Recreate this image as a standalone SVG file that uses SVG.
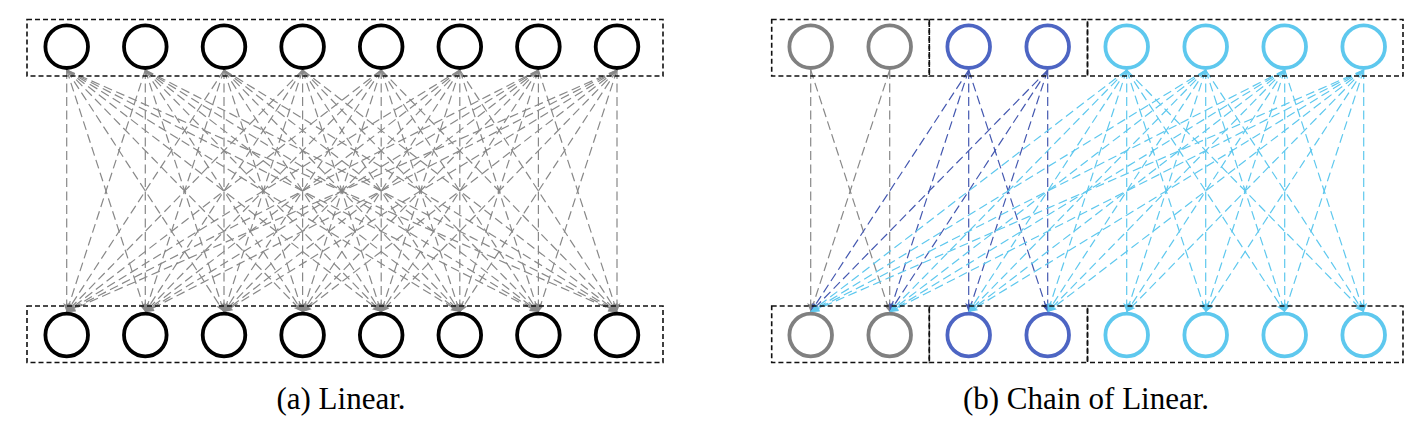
<svg xmlns="http://www.w3.org/2000/svg" width="1422" height="425" viewBox="0 0 1422 425">
<style>
.box{fill:none;stroke:#111;stroke-width:1.6;stroke-dasharray:5,3}
.n{fill:none;stroke-width:3.8}
.k{stroke:#000}
.g{stroke:#808080}
.b{stroke:#4d65c3}
.cy{stroke:#5ec8ee}
.e{fill:none;stroke-width:1.2;stroke-dasharray:9,4.5}
.eg{stroke:#888}
.eb{stroke:#4458b0}
.ec{stroke:#5ec8ee}
.cap{font-family:"Liberation Serif","Times New Roman",serif;font-size:31px;fill:#000;text-anchor:middle}
</style>
<defs>
<marker id="ag" markerUnits="userSpaceOnUse" markerWidth="10" markerHeight="8" refX="9" refY="3.5" orient="auto"><path d="M0,0 L9,3.5 L0,7 L2,3.5 z" fill="#888"/></marker>
<marker id="ab" markerUnits="userSpaceOnUse" markerWidth="10" markerHeight="8" refX="9" refY="3.5" orient="auto"><path d="M0,0 L9,3.5 L0,7 L2,3.5 z" fill="#4458b0"/></marker>
<marker id="ac" markerUnits="userSpaceOnUse" markerWidth="10" markerHeight="8" refX="9" refY="3.5" orient="auto"><path d="M0,0 L9,3.5 L0,7 L2,3.5 z" fill="#5ec8ee"/></marker>
</defs>
<rect width="1422" height="425" fill="#fff"/>
<g id="connectors">
<g class="e eg" marker-end="url(#ag)">
<line x1="66.7" y1="70" x2="66.7" y2="312"/><line x1="66.7" y1="70" x2="145.3" y2="312"/><line x1="66.7" y1="70" x2="224" y2="312"/><line x1="66.7" y1="70" x2="302.6" y2="312"/><line x1="66.7" y1="70" x2="381.2" y2="312"/><line x1="66.7" y1="70" x2="459.8" y2="312"/><line x1="66.7" y1="70" x2="538.4" y2="312"/><line x1="66.7" y1="70" x2="617" y2="312"/>
<line x1="145.3" y1="70" x2="66.7" y2="312"/><line x1="145.3" y1="70" x2="145.3" y2="312"/><line x1="145.3" y1="70" x2="224" y2="312"/><line x1="145.3" y1="70" x2="302.6" y2="312"/><line x1="145.3" y1="70" x2="381.2" y2="312"/><line x1="145.3" y1="70" x2="459.8" y2="312"/><line x1="145.3" y1="70" x2="538.4" y2="312"/><line x1="145.3" y1="70" x2="617" y2="312"/>
<line x1="224" y1="70" x2="66.7" y2="312"/><line x1="224" y1="70" x2="145.3" y2="312"/><line x1="224" y1="70" x2="224" y2="312"/><line x1="224" y1="70" x2="302.6" y2="312"/><line x1="224" y1="70" x2="381.2" y2="312"/><line x1="224" y1="70" x2="459.8" y2="312"/><line x1="224" y1="70" x2="538.4" y2="312"/><line x1="224" y1="70" x2="617" y2="312"/>
<line x1="302.6" y1="70" x2="66.7" y2="312"/><line x1="302.6" y1="70" x2="145.3" y2="312"/><line x1="302.6" y1="70" x2="224" y2="312"/><line x1="302.6" y1="70" x2="302.6" y2="312"/><line x1="302.6" y1="70" x2="381.2" y2="312"/><line x1="302.6" y1="70" x2="459.8" y2="312"/><line x1="302.6" y1="70" x2="538.4" y2="312"/><line x1="302.6" y1="70" x2="617" y2="312"/>
<line x1="381.2" y1="70" x2="66.7" y2="312"/><line x1="381.2" y1="70" x2="145.3" y2="312"/><line x1="381.2" y1="70" x2="224" y2="312"/><line x1="381.2" y1="70" x2="302.6" y2="312"/><line x1="381.2" y1="70" x2="381.2" y2="312"/><line x1="381.2" y1="70" x2="459.8" y2="312"/><line x1="381.2" y1="70" x2="538.4" y2="312"/><line x1="381.2" y1="70" x2="617" y2="312"/>
<line x1="459.8" y1="70" x2="66.7" y2="312"/><line x1="459.8" y1="70" x2="145.3" y2="312"/><line x1="459.8" y1="70" x2="224" y2="312"/><line x1="459.8" y1="70" x2="302.6" y2="312"/><line x1="459.8" y1="70" x2="381.2" y2="312"/><line x1="459.8" y1="70" x2="459.8" y2="312"/><line x1="459.8" y1="70" x2="538.4" y2="312"/><line x1="459.8" y1="70" x2="617" y2="312"/>
<line x1="538.4" y1="70" x2="66.7" y2="312"/><line x1="538.4" y1="70" x2="145.3" y2="312"/><line x1="538.4" y1="70" x2="224" y2="312"/><line x1="538.4" y1="70" x2="302.6" y2="312"/><line x1="538.4" y1="70" x2="381.2" y2="312"/><line x1="538.4" y1="70" x2="459.8" y2="312"/><line x1="538.4" y1="70" x2="538.4" y2="312"/><line x1="538.4" y1="70" x2="617" y2="312"/>
<line x1="617" y1="70" x2="66.7" y2="312"/><line x1="617" y1="70" x2="145.3" y2="312"/><line x1="617" y1="70" x2="224" y2="312"/><line x1="617" y1="70" x2="302.6" y2="312"/><line x1="617" y1="70" x2="381.2" y2="312"/><line x1="617" y1="70" x2="459.8" y2="312"/><line x1="617" y1="70" x2="538.4" y2="312"/><line x1="617" y1="70" x2="617" y2="312"/>
</g>
<g class="e eg" marker-end="url(#ag)">
<line x1="810.7" y1="70" x2="810.7" y2="312"/><line x1="810.7" y1="70" x2="889.7" y2="312"/><line x1="889.7" y1="70" x2="810.7" y2="312"/><line x1="889.7" y1="70" x2="889.7" y2="312"/>
</g>
<g class="e eb" marker-end="url(#ab)">
<line x1="968.7" y1="70" x2="810.7" y2="312"/><line x1="968.7" y1="70" x2="889.7" y2="312"/><line x1="968.7" y1="70" x2="968.7" y2="312"/><line x1="968.7" y1="70" x2="1047.7" y2="312"/>
<line x1="1047.7" y1="70" x2="810.7" y2="312"/><line x1="1047.7" y1="70" x2="889.7" y2="312"/><line x1="1047.7" y1="70" x2="968.7" y2="312"/><line x1="1047.7" y1="70" x2="1047.7" y2="312"/>
</g>
<g class="e ec" marker-end="url(#ac)">
<line x1="1126.7" y1="70" x2="810.7" y2="312"/><line x1="1126.7" y1="70" x2="889.7" y2="312"/><line x1="1126.7" y1="70" x2="968.7" y2="312"/><line x1="1126.7" y1="70" x2="1047.7" y2="312"/><line x1="1126.7" y1="70" x2="1126.7" y2="312"/><line x1="1126.7" y1="70" x2="1205.7" y2="312"/><line x1="1126.7" y1="70" x2="1284.7" y2="312"/><line x1="1126.7" y1="70" x2="1363.7" y2="312"/>
<line x1="1205.7" y1="70" x2="810.7" y2="312"/><line x1="1205.7" y1="70" x2="889.7" y2="312"/><line x1="1205.7" y1="70" x2="968.7" y2="312"/><line x1="1205.7" y1="70" x2="1047.7" y2="312"/><line x1="1205.7" y1="70" x2="1126.7" y2="312"/><line x1="1205.7" y1="70" x2="1205.7" y2="312"/><line x1="1205.7" y1="70" x2="1284.7" y2="312"/><line x1="1205.7" y1="70" x2="1363.7" y2="312"/>
<line x1="1284.7" y1="70" x2="810.7" y2="312"/><line x1="1284.7" y1="70" x2="889.7" y2="312"/><line x1="1284.7" y1="70" x2="968.7" y2="312"/><line x1="1284.7" y1="70" x2="1047.7" y2="312"/><line x1="1284.7" y1="70" x2="1126.7" y2="312"/><line x1="1284.7" y1="70" x2="1205.7" y2="312"/><line x1="1284.7" y1="70" x2="1284.7" y2="312"/><line x1="1284.7" y1="70" x2="1363.7" y2="312"/>
<line x1="1363.7" y1="70" x2="810.7" y2="312"/><line x1="1363.7" y1="70" x2="889.7" y2="312"/><line x1="1363.7" y1="70" x2="968.7" y2="312"/><line x1="1363.7" y1="70" x2="1047.7" y2="312"/><line x1="1363.7" y1="70" x2="1126.7" y2="312"/><line x1="1363.7" y1="70" x2="1205.7" y2="312"/><line x1="1363.7" y1="70" x2="1284.7" y2="312"/><line x1="1363.7" y1="70" x2="1363.7" y2="312"/>
</g>
</g>
<g id="boxes">
<rect class="box" x="27" y="19.5" width="636" height="56.5"/>
<rect class="box" x="27" y="306" width="636" height="56.5"/>
<rect class="box" x="771.7" y="19.5" width="157.6" height="56.5"/>
<rect class="box" x="929.3" y="19.5" width="158.2" height="56.5"/>
<rect class="box" x="1087.5" y="19.5" width="315.5" height="56.5"/>
<rect class="box" x="771.7" y="306" width="157.6" height="56.5"/>
<rect class="box" x="929.3" y="306" width="158.2" height="56.5"/>
<rect class="box" x="1087.5" y="306" width="315.5" height="56.5"/>
</g>
<g id="a-top-1"><circle class="n k" cx="66.7" cy="46.7" r="21.3"/></g>
<g id="a-top-2"><circle class="n k" cx="145.3" cy="46.7" r="21.3"/></g>
<g id="a-top-3"><circle class="n k" cx="224" cy="46.7" r="21.3"/></g>
<g id="a-top-4"><circle class="n k" cx="302.6" cy="46.7" r="21.3"/></g>
<g id="a-top-5"><circle class="n k" cx="381.2" cy="46.7" r="21.3"/></g>
<g id="a-top-6"><circle class="n k" cx="459.8" cy="46.7" r="21.3"/></g>
<g id="a-top-7"><circle class="n k" cx="538.4" cy="46.7" r="21.3"/></g>
<g id="a-top-8"><circle class="n k" cx="617" cy="46.7" r="21.3"/></g>
<g id="a-bot-1"><circle class="n k" cx="66.7" cy="335" r="21.3"/></g>
<g id="a-bot-2"><circle class="n k" cx="145.3" cy="335" r="21.3"/></g>
<g id="a-bot-3"><circle class="n k" cx="224" cy="335" r="21.3"/></g>
<g id="a-bot-4"><circle class="n k" cx="302.6" cy="335" r="21.3"/></g>
<g id="a-bot-5"><circle class="n k" cx="381.2" cy="335" r="21.3"/></g>
<g id="a-bot-6"><circle class="n k" cx="459.8" cy="335" r="21.3"/></g>
<g id="a-bot-7"><circle class="n k" cx="538.4" cy="335" r="21.3"/></g>
<g id="a-bot-8"><circle class="n k" cx="617" cy="335" r="21.3"/></g>
<g id="b-top-1"><circle class="n g" cx="810.7" cy="46.7" r="21.3"/></g>
<g id="b-top-2"><circle class="n g" cx="889.7" cy="46.7" r="21.3"/></g>
<g id="b-top-3"><circle class="n b" cx="968.7" cy="46.7" r="21.3"/></g>
<g id="b-top-4"><circle class="n b" cx="1047.7" cy="46.7" r="21.3"/></g>
<g id="b-top-5"><circle class="n cy" cx="1126.7" cy="46.7" r="21.3"/></g>
<g id="b-top-6"><circle class="n cy" cx="1205.7" cy="46.7" r="21.3"/></g>
<g id="b-top-7"><circle class="n cy" cx="1284.7" cy="46.7" r="21.3"/></g>
<g id="b-top-8"><circle class="n cy" cx="1363.7" cy="46.7" r="21.3"/></g>
<g id="b-bot-1"><circle class="n g" cx="810.7" cy="335" r="21.3"/></g>
<g id="b-bot-2"><circle class="n g" cx="889.7" cy="335" r="21.3"/></g>
<g id="b-bot-3"><circle class="n b" cx="968.7" cy="335" r="21.3"/></g>
<g id="b-bot-4"><circle class="n b" cx="1047.7" cy="335" r="21.3"/></g>
<g id="b-bot-5"><circle class="n cy" cx="1126.7" cy="335" r="21.3"/></g>
<g id="b-bot-6"><circle class="n cy" cx="1205.7" cy="335" r="21.3"/></g>
<g id="b-bot-7"><circle class="n cy" cx="1284.7" cy="335" r="21.3"/></g>
<g id="b-bot-8"><circle class="n cy" cx="1363.7" cy="335" r="21.3"/></g>
<g id="captions">
<text class="cap" x="341" y="409">(a) Linear.</text>
<text class="cap" x="1086" y="409">(b) Chain of Linear.</text>
</g>
</svg>
